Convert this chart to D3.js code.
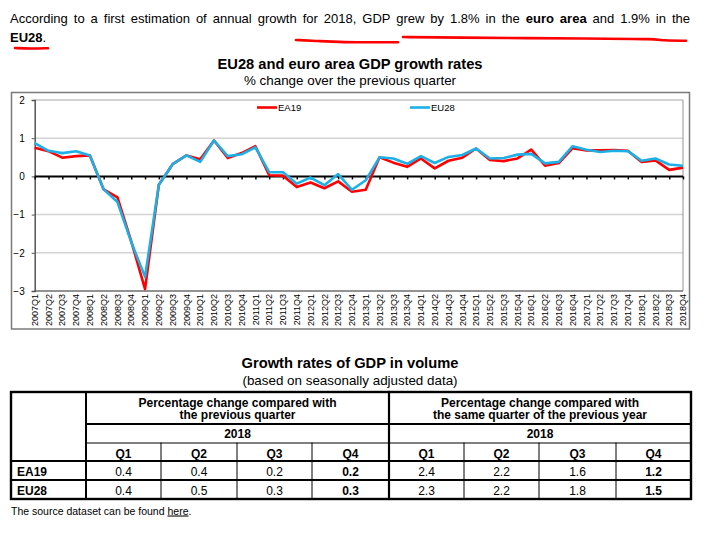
<!DOCTYPE html>
<html>
<head>
<meta charset="utf-8">
<script src="https://cdn.jsdelivr.net/npm/d3@7"></script>
<style>
  body { margin: 0; background: #fff; }
  #wrap { position: relative; width: 725px; height: 533px; font-family: "Liberation Sans", Arial, sans-serif; overflow: hidden; }
  #para { position: absolute; left: 10px; top: 9px; width: 680px; font-size: 13px; line-height: 19px; color: #000; z-index: 2; }
  #para .l1 { text-align: justify; text-align-last: justify; }
  svg { position: absolute; left: 0; top: 0; }
</style>
</head>
<body>
<div id="wrap">
  <div id="para">
    <div class="l1">According to a first estimation of annual growth for 2018, GDP grew by 1.8% in the <b>euro area</b> and 1.9% in the</div>
    <div><b>EU28</b>.</div>
  </div>
  <svg id="chart" width="725" height="533"></svg>
</div>
<script>
// ---------------- DATA ----------------
const quarters = [
  "2007Q1","2007Q2","2007Q3","2007Q4","2008Q1","2008Q2","2008Q3","2008Q4",
  "2009Q1","2009Q2","2009Q3","2009Q4","2010Q1","2010Q2","2010Q3","2010Q4",
  "2011Q1","2011Q2","2011Q3","2011Q4","2012Q1","2012Q2","2012Q3","2012Q4",
  "2013Q1","2013Q2","2013Q3","2013Q4","2014Q1","2014Q2","2014Q3","2014Q4",
  "2015Q1","2015Q2","2015Q3","2015Q4","2016Q1","2016Q2","2016Q3","2016Q4",
  "2017Q1","2017Q2","2017Q3","2017Q4","2018Q1","2018Q2","2018Q3","2018Q4"
];
const ea19 = [
  0.75, 0.66, 0.49, 0.53, 0.55, -0.34, -0.55, -1.70,
  -2.95, -0.22, 0.32, 0.55, 0.45, 0.94, 0.48, 0.61,
  0.79, 0.03, 0.02, -0.28, -0.16, -0.31, -0.13, -0.40,
  -0.35, 0.50, 0.36, 0.25, 0.47, 0.21, 0.41, 0.49,
  0.73, 0.43, 0.40, 0.47, 0.70, 0.28, 0.35, 0.74,
  0.68, 0.68, 0.69, 0.67, 0.38, 0.42, 0.17, 0.23
];
const eu28 = [
  0.87, 0.67, 0.61, 0.66, 0.55, -0.34, -0.67, -1.72,
  -2.63, -0.22, 0.32, 0.55, 0.38, 0.94, 0.53, 0.58,
  0.76, 0.11, 0.11, -0.19, -0.03, -0.23, 0.06, -0.35,
  -0.10, 0.50, 0.47, 0.33, 0.53, 0.35, 0.51, 0.56,
  0.73, 0.47, 0.48, 0.57, 0.59, 0.34, 0.38, 0.79,
  0.70, 0.64, 0.67, 0.66, 0.41, 0.47, 0.31, 0.28
];
const yTicks = [-3, -2, -1, 0, 1, 2];
const seriesNames = ["EA19", "EU28"];
const seriesColors = ["#ff0000", "#1cb0e6"];

const tableRows = ["EA19", "EU28"];
const tableQuarters = ["Q1", "Q2", "Q3", "Q4"];
const tableYear = "2018";
const qoqEA19 = [0.4, 0.4, 0.2, 0.2];
const qoqEU28 = [0.4, 0.5, 0.3, 0.3];
const yoyEA19 = [2.4, 2.2, 1.6, 1.2];
const yoyEU28 = [2.3, 2.2, 1.8, 1.5];

// ---------------- LAYOUT ----------------
const svg = d3.select("#chart");
const FONT = '"Liberation Sans", Arial, sans-serif';
svg.style("font-family", FONT);

const plotL = 34.7, plotR = 683, plotT = 100, plotB = 291;

// hand-drawn red underlines (annotation)
const marks = [
  [[15, 48], [30, 48.6], [48, 48.2]],
  [[296, 40], [318, 41], [338, 42.3], [398, 42.3]],
  [[403, 37], [444, 37.6], [600, 38.5], [656, 39], [662, 40.5], [686, 40.8]]
];
svg.append("g").selectAll("path").data(marks).join("path")
  .attr("d", d3.line().curve(d3.curveBasis))
  .attr("fill", "none").attr("stroke", "#ff0000").attr("stroke-width", 2.6)
  .attr("stroke-linecap", "round");

// titles
svg.append("text").attr("x", 350).attr("y", 69).attr("text-anchor", "middle")
  .attr("font-size", "14.7px").attr("font-weight", "bold").text("EU28 and euro area GDP growth rates");
svg.append("text").attr("x", 350).attr("y", 84.5).attr("text-anchor", "middle")
  .attr("font-size", "13.4px").text("% change over the previous quarter");

// outer chart frame
svg.append("rect").attr("x", 11.5).attr("y", 92.5).attr("width", 678).attr("height", 236.5)
  .attr("fill", "none").attr("stroke", "#7a7a7a").attr("stroke-width", 1.5);

const x = d3.scalePoint().domain(quarters).range([plotL, plotR]);
const y = d3.scaleLinear().domain([-3, 2]).range([plotB, plotT]);

// gridlines
svg.append("g").selectAll("line").data(yTicks.filter(t => t !== 0 && t !== 2 && t !== -3)).join("line")
  .attr("x1", plotL).attr("x2", plotR).attr("y1", d => y(d)).attr("y2", d => y(d))
  .attr("stroke", "#d3d3d3").attr("stroke-width", 1.5);
// plot border top/right
svg.append("line").attr("x1", plotL).attr("x2", plotR).attr("y1", y(2)).attr("y2", y(2))
  .attr("stroke", "#a6a6a6").attr("stroke-width", 1.2);
svg.append("line").attr("x1", plotR).attr("x2", plotR).attr("y1", y(2)).attr("y2", y(-3))
  .attr("stroke", "#a6a6a6").attr("stroke-width", 1.2);
// bottom line
svg.append("line").attr("x1", plotL).attr("x2", plotR).attr("y1", y(-3)).attr("y2", y(-3))
  .attr("stroke", "#6e6e6e").attr("stroke-width", 1.3);

// y axis
const yAxis = svg.append("g").attr("transform", `translate(${plotL},0)`)
  .call(d3.axisLeft(y).tickValues(yTicks).tickSize(3).tickPadding(7).tickFormat(d3.format("d")));
yAxis.select(".domain").attr("stroke", "#555").attr("stroke-width", 1.5);
yAxis.selectAll(".tick line").attr("stroke", "#555");
yAxis.selectAll("text").attr("font-size", "10px").attr("font-family", FONT).attr("fill", "#000");

// zero axis with ticks
const xAxis = svg.append("g").attr("transform", `translate(0,${y(0)})`)
  .call(d3.axisBottom(x).tickSize(3).tickFormat(""));
xAxis.select(".domain").attr("d", `M${plotL},0H${plotR}`).attr("stroke", "#000").attr("stroke-width", 2);
xAxis.selectAll(".tick line").attr("stroke", "#000").attr("stroke-width", 1.5);

// x labels at bottom
svg.append("g").selectAll("text").data(quarters).join("text")
  .attr("transform", d => `translate(${x(d) + 3.2},${plotB + 3}) rotate(-90)`)
  .attr("text-anchor", "end").attr("font-size", "9px").text(d => d);

// lines
const line = d3.line().x((d, i) => x(quarters[i])).y(d => y(d));
[ea19, eu28].forEach((s, k) => {
  svg.append("path").datum(s).attr("d", line)
    .attr("fill", "none").attr("stroke", seriesColors[k]).attr("stroke-width", 2.6)
    .attr("stroke-linejoin", "round");
});

// legend
const legendX = [257, 410];
seriesNames.forEach((n, k) => {
  svg.append("line").attr("x1", legendX[k]).attr("x2", legendX[k] + 20).attr("y1", 107.5).attr("y2", 107.5)
    .attr("stroke", seriesColors[k]).attr("stroke-width", 2.6);
  svg.append("text").attr("x", legendX[k] + 21).attr("y", 111).attr("font-size", "9.5px").text(n);
});

// ---------------- TABLE ----------------
svg.append("text").attr("x", 350).attr("y", 368).attr("text-anchor", "middle")
  .attr("font-size", "14.7px").attr("font-weight", "bold").text("Growth rates of GDP in volume");
svg.append("text").attr("x", 350).attr("y", 384.5).attr("text-anchor", "middle")
  .attr("font-size", "13.4px").text("(based on seasonally adjusted data)");

const cx = [11, 86, 161, 237, 312, 389, 464, 539, 616, 691];
const ry = [392, 424, 443, 461, 480, 499];
const tg = svg.append("g");
function ln(x1, y1, x2, y2, w) {
  tg.append("line").attr("x1", x1).attr("y1", y1).attr("x2", x2).attr("y2", y2)
    .attr("stroke", "#000").attr("stroke-width", w).attr("stroke-linecap", "square");
}
// thin inner lines
ln(cx[1], ry[2], cx[9], ry[2], 1);
[2, 3, 4, 6, 7, 8].forEach(i => ln(cx[i], ry[2], cx[i], ry[5], 1));
// thicker lines
ln(cx[1], ry[1], cx[9], ry[1], 2);
ln(cx[0], ry[3], cx[9], ry[3], 2);
ln(cx[0], ry[4], cx[9], ry[4], 2);
ln(cx[1], ry[0], cx[1], ry[5], 2);
ln(cx[5], ry[0], cx[5], ry[5], 2.2);
tg.append("rect").attr("x", cx[0]).attr("y", ry[0]).attr("width", cx[9] - cx[0]).attr("height", ry[5] - ry[0])
  .attr("fill", "none").attr("stroke", "#000").attr("stroke-width", 2.4);

function txt(xp, yp, s, opts) {
  const t = tg.append("text").attr("x", xp).attr("y", yp).attr("font-size", (opts && opts.size) || "12px")
    .attr("text-anchor", (opts && opts.anchor) || "middle").text(s);
  if (opts && opts.bold) t.attr("font-weight", "bold");
  return t;
}
const headers = [["Percentage change compared with", "the previous quarter"],
                 ["Percentage change compared with", "the same quarter of the previous year"]];
headers.forEach((h, k) => {
  const mid = k === 0 ? (cx[1] + cx[5]) / 2 : (cx[5] + cx[9]) / 2;
  txt(mid, 406.5, h[0], { bold: true });
  txt(mid, 419, h[1], { bold: true });
  txt(mid, 438, tableYear, { bold: true });
});
tableQuarters.forEach((q, i) => {
  txt((cx[1 + i] + cx[2 + i]) / 2, 457.5, q, { bold: true });
  txt((cx[5 + i] + cx[6 + i]) / 2, 457.5, q, { bold: true });
});
const rowsData = [[qoqEA19, yoyEA19], [qoqEU28, yoyEU28]];
const rowBase = [476, 494.5];
tableRows.forEach((r, j) => {
  txt(17, rowBase[j], r, { bold: true, anchor: "start" });
  rowsData[j].forEach((arr, k) => {
    arr.forEach((v, i) => {
      const c = k * 4 + 1 + i;
      txt((cx[c] + cx[c + 1]) / 2, rowBase[j], d3.format(".1f")(v), { bold: i === 3 });
    });
  });
});

// footnote
const fn = svg.append("text").attr("x", 11).attr("y", 514.5).attr("font-size", "10.5px");
fn.append("tspan").text("The source dataset can be found ");
fn.append("tspan").attr("text-decoration", "underline").text("here");
fn.append("tspan").text(".");
</script>
</body>
</html>
